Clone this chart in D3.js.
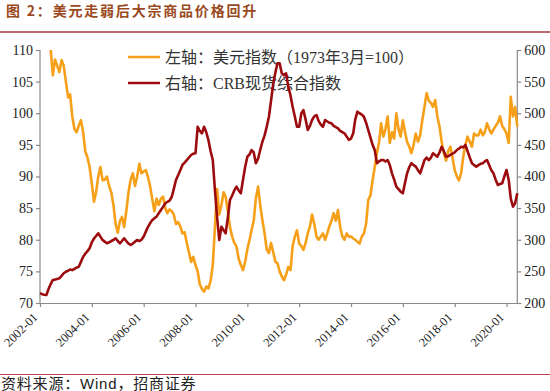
<!DOCTYPE html>
<html>
<head>
<meta charset="utf-8">
<script src="https://cdn.jsdelivr.net/npm/d3@7"></script>
<style>
  body { margin: 0; background: #fff; }
  svg { display: block; }
</style>
</head>
<body>
<div class="chart"></div>
<script>
var WIDTH = 550;
var HEIGHT = 391;

// plot box
var LEFT = 40;
var RIGHT = 517.3;
var TOP = 50;
var BOTTOM = 303;

var ORANGE = "#f6a01a";
var DARKRED = "#9c0c0e";

// monthly values
var dxyStart = "2002-06";
var dxyValues = [
    110, 106, 108.5, 107.5, 106.5, 108.4, 107.5,
    105, 102.5, 103, 99.5, 97.5, 97, 98, 98.9, 97, 94, 93, 91.5,
    88.9, 86, 87.5, 90, 91.5, 89.4, 89.5, 90, 88.5, 87.5, 85.5, 82.5,
    81.1, 83, 83.6, 82, 84.5, 87.5, 89.5, 90.5, 88.5, 90, 92, 90.5,
    90.8, 91, 90, 88.5, 86.5, 84.5, 86.5, 85.5, 86.5, 86.8, 85, 84.2,
    84.8, 84.5, 84, 82.5, 82.8, 82.1, 81, 81.2, 79.5, 78, 76.5, 77.3,
    76, 75, 73, 72.2, 71.8, 72.6, 72.3, 73.5, 76, 82, 88, 84,
    85.5, 87.5, 86.8, 84.5, 82, 80.5, 79.5, 78.9, 77, 76, 75.2, 76.5,
    78.5, 80, 81.5, 83, 86.5, 88.4, 85.5, 83.1, 81, 78.5, 77.9, 79.5,
    78, 76.5, 76.3, 75, 74.2, 73.6, 74.5, 75.7, 75.2, 79, 80.5, 81.5,
    79.4, 79, 78.4, 79.5, 81, 82.1, 84, 82.5, 80.5, 80, 80.5, 81,
    80, 81, 82.1, 83, 84.2, 83, 84.7, 82, 80.5, 80, 81, 80.5,
    80.5, 80.2, 80, 79.7, 79.4, 80.5, 81, 82.5, 86.3, 87, 89.4, 91.5,
    93.7, 95.5, 98.4, 96.3, 97.5, 99.5, 95.3, 97, 96, 100, 97.5, 96.3,
    98.9, 97, 95.5, 94.7, 93.7, 95, 96.8, 95.5, 96.5, 98.9, 101, 103.2,
    102, 101.6, 101, 102.1, 99.5, 97.9, 95.5, 93.7, 92.5, 94, 94.7, 93,
    91, 90, 89.4, 90.5, 93.1, 95, 96.3, 95.5, 94.7, 96.8, 96.5, 96.5,
    97.4, 96.5, 97, 98.4, 97.5, 96.8, 97.4, 98, 98.5, 99.5, 98, 97.5,
    96.8, 95.3, 102.6, 99.5, 101, 97.9
];

var crbStart = "2002-01";
var crbValues = [
    215.3, 214, 213, 212.6, 222, 230, 236.4, 237, 238, 239, 243, 247,
    249.5, 251, 253, 252, 254, 256, 257.4, 265, 273, 278, 282, 286.5,
    296, 302, 306, 310.2, 305, 299.6, 297, 294.4, 296, 298, 299.6, 302.3,
    298, 294.4, 298, 302.3, 298, 294, 291.7, 294, 297, 299.6, 298, 300,
    305, 312.8, 320, 326, 331, 334, 336.5, 342, 347, 352, 357.6, 360,
    362, 368, 380, 394.5, 402, 410, 418.2, 422, 426, 430, 434, 436,
    436.7, 478.7, 472, 468.3, 478.7, 470, 457.7, 440, 426, 378.7, 335, 299.6,
    320.6, 315, 310.2, 335, 362.8, 370, 378, 383.9, 378, 373.4, 395, 415,
    431.3, 435, 441.9, 438, 421, 428, 441.9, 455, 465, 478.7, 494.5, 520,
    547.3, 565, 579, 579, 563.2, 560, 563.2, 542, 528, 510.4, 495, 478.7,
    478.7, 500, 505, 490, 473.5, 480, 489.3, 495, 497.2, 488, 482, 478.7,
    489.3, 487, 485, 484.1, 480, 478, 476.2, 472, 470, 468.3, 463, 458,
    460, 468.3, 490, 502.5, 500, 498, 494.5, 485, 473.5, 462, 450, 442,
    421, 424, 426, 426, 424, 426, 418, 405, 395, 383.9, 380, 376,
    373.4, 390, 405, 415, 421, 418, 415.6, 410, 405, 415, 426, 430,
    426, 430, 436.7, 434, 431.3, 438, 447, 440, 431.3, 432, 434, 436,
    438, 441.9, 444, 447, 446, 449.8, 440, 430, 421, 418, 415.6, 418,
    420, 421, 424, 426, 418, 410, 405, 395, 386.6, 388, 389.2, 400,
    410.3, 394.5, 365, 352.3, 357.6, 373.4
];

var leftTicks = [70, 75, 80, 85, 90, 95, 100, 105, 110];
var rightTicks = [200, 250, 300, 350, 400, 450, 500, 550, 600];
var yearTicks = ["2002-01", "2004-01", "2006-01", "2008-01", "2010-01",
                 "2012-01", "2014-01", "2016-01", "2018-01", "2020-01"];

var legendLabels = ["左轴：美元指数（1973年3月=100）", "右轴：CRB现货综合指数"];

var parseMonth = d3.timeParse("%Y-%m");

function toSeries(start, values) {
    var t0 = parseMonth(start);
    return values.map(function(v, i) {
        return { date: d3.timeMonth.offset(t0, i), value: v };
    });
}

var dxy = toSeries(dxyStart, dxyValues);
var crb = toSeries(crbStart, crbValues);

var x = d3.scaleTime()
    .domain([parseMonth("2002-01"), parseMonth("2020-06")])
    .range([LEFT, RIGHT]);

var yLeft = d3.scaleLinear().domain([70, 110]).range([BOTTOM, TOP]);
var yRight = d3.scaleLinear().domain([200, 600]).range([BOTTOM, TOP]);

var svg = d3.select(".chart")
    .append("svg")
    .attr("width", WIDTH)
    .attr("height", HEIGHT);

svg.append("rect")
    .attr("width", WIDTH)
    .attr("height", HEIGHT)
    .attr("fill", "#fff");

// title + rules
svg.append("text")
    .attr("x", 6)
    .attr("y", 16)
    .attr("fill", "#9a4a1e")
    .style("font-family", "'Noto Sans CJK SC', sans-serif")
    .style("font-size", "14px")
    .style("font-weight", "bold")
    .style("letter-spacing", "1.8px")
    .text("图 2：美元走弱后大宗商品价格回升");

svg.append("line")
    .attr("x1", 0).attr("x2", WIDTH)
    .attr("y1", 32).attr("y2", 32)
    .attr("stroke", "#a8333b")
    .attr("stroke-width", 1.5);

svg.append("line")
    .attr("x1", 0).attr("x2", WIDTH)
    .attr("y1", 374.5).attr("y2", 374.5)
    .attr("stroke", "#c0424a")
    .attr("stroke-width", 1.2);

svg.append("text")
    .attr("x", 1)
    .attr("y", 389)
    .attr("fill", "#222")
    .style("font-family", "'Liberation Sans', 'Noto Sans CJK SC', sans-serif")
    .style("font-size", "15px")
    .style("letter-spacing", "0.8px")
    .text("资料来源：Wind，招商证券");

// axes
var axisFont = "'Liberation Serif', 'Noto Sans CJK SC', serif";

var gLeft = svg.append("g")
    .attr("transform", "translate(" + LEFT + ",0)")
    .call(d3.axisLeft(yLeft).tickValues(leftTicks).tickSize(4).tickPadding(3));

var gRight = svg.append("g")
    .attr("transform", "translate(" + RIGHT + ",0)")
    .call(d3.axisRight(yRight).tickValues(rightTicks).tickSize(4).tickPadding(3));

var gBottom = svg.append("g")
    .attr("transform", "translate(0," + BOTTOM + ")")
    .call(d3.axisBottom(x)
        .tickValues(yearTicks.map(parseMonth))
        .tickFormat(d3.timeFormat("%Y-%m"))
        .tickSize(4)
        .tickSizeOuter(0));

[gLeft, gRight, gBottom].forEach(function(g) {
    g.selectAll(".domain, .tick line").attr("stroke", "#8a8a8a").attr("stroke-width", 1.2);
    g.selectAll("text")
        .attr("fill", "#222")
        .style("font-family", axisFont)
        .style("font-size", "14px");
});
gLeft.select(".domain").attr("d", "M0," + BOTTOM + "V" + TOP);
gRight.select(".domain").attr("d", "M0," + BOTTOM + "V" + TOP);

gBottom.selectAll("text")
    .style("font-size", "12.5px")
    .attr("text-anchor", "end")
    .attr("dy", null)
    .attr("y", 0)
    .attr("transform", "translate(-2,15) rotate(-45)");

// legend (sits under the lines)
var legend = svg.append("g");
[ORANGE, DARKRED].forEach(function(c, i) {
    var ly = 57 + i * 26;
    legend.append("line")
        .attr("x1", 128).attr("x2", 160)
        .attr("y1", ly).attr("y2", ly)
        .attr("stroke", c)
        .attr("stroke-width", 2.5);
    legend.append("text")
        .attr("x", 165)
        .attr("y", ly + 6)
        .attr("fill", "#333")
        .style("font-family", axisFont)
        .style("font-size", "16px")
        .text(legendLabels[i]);
});

// series
var lineLeft = d3.line()
    .x(function(d) { return x(d.date); })
    .y(function(d) { return yLeft(d.value); });

var lineRight = d3.line()
    .x(function(d) { return x(d.date); })
    .y(function(d) { return yRight(d.value); });

svg.append("path")
    .datum(dxy)
    .attr("d", lineLeft)
    .attr("fill", "none")
    .attr("stroke", ORANGE)
    .attr("stroke-width", 2.6)
    .attr("stroke-linejoin", "round");

svg.append("path")
    .datum(crb)
    .attr("d", lineRight)
    .attr("fill", "none")
    .attr("stroke", DARKRED)
    .attr("stroke-width", 2.6)
    .attr("stroke-linejoin", "round");
</script>
</body>
</html>
